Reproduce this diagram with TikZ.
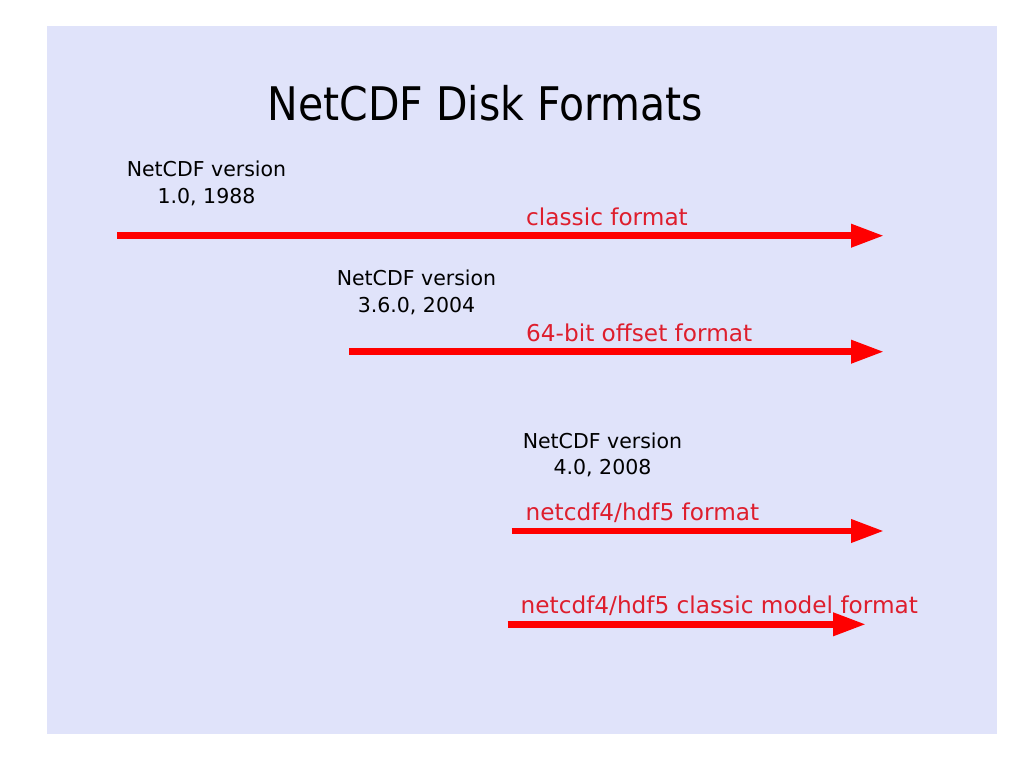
\documentclass[tikz,border=0pt]{standalone}
\usepackage{fontspec}
\usepackage{graphicx}
\setmainfont{DejaVu Sans}
\usetikzlibrary{arrows.meta}
\definecolor{bgpanel}{RGB}{224,227,250}
\definecolor{labelred}{RGB}{222,30,45}
\definecolor{arrowred}{RGB}{255,0,0}
\tikzset{
  verlabel/.style={font=\fontsize{20.5pt}{26.5pt}\selectfont, align=center, inner sep=0pt, anchor=base, text=black},
  fmtlabel/.style={font=\fontsize{23.2pt}{28pt}\selectfont, inner sep=0pt, anchor=base west, text=labelred},
  fmtarrow/.style={draw=arrowred, line width=6.7pt, -{Triangle[length=33pt,width=22pt]}}
}
\begin{document}
\begin{tikzpicture}[x=1pt,y=-1pt]
\useasboundingbox (0,0) rectangle (1024,768);
\fill[white] (0,0) rectangle (1024,768);
\fill[bgpanel] (47,26) rectangle (997,734);
\node[inner sep=0pt, anchor=base, font=\fontsize{46.3pt}{50pt}\selectfont] (title) at (485.5,120) {\scalebox{0.885}[1]{NetCDF Disk Formats}};
% version labels (anchor = baseline of the last line)
\node[verlabel] (v1) at (206.5,203.2) {NetCDF version\\1.0, 1988};
\node[verlabel] (v2) at (416.5,312.2) {NetCDF version\\3.6.0, 2004};
\node[verlabel] (v3) at (602.5,474.8) {NetCDF version\\4.0, 2008};
% format labels
\node[fmtlabel] (f1) at (526,225) {classic format};
\node[fmtlabel] (f2) at (526,341.7) {64-bit offset format};
\node[fmtlabel] (f3) at (525.5,520) {netcdf4/hdf5 format};
\node[fmtlabel] (f4) at (520.5,613.3) {netcdf4/hdf5 classic model format};
% arrows
\coordinate (a1s) at (117,235.7);
\coordinate (a1e) at (884,235.7);
\coordinate (a2s) at (349,351.7);
\coordinate (a2e) at (884,351.7);
\coordinate (a3s) at (511.5,531);
\coordinate (a3e) at (884,531);
\coordinate (a4s) at (507.5,624.3);
\coordinate (a4e) at (866,624.3);
\draw[fmtarrow] (a1s) -- (a1e);
\draw[fmtarrow] (a2s) -- (a2e);
\draw[fmtarrow] (a3s) -- (a3e);
\draw[fmtarrow] (a4s) -- (a4e);
\end{tikzpicture}
\end{document}
